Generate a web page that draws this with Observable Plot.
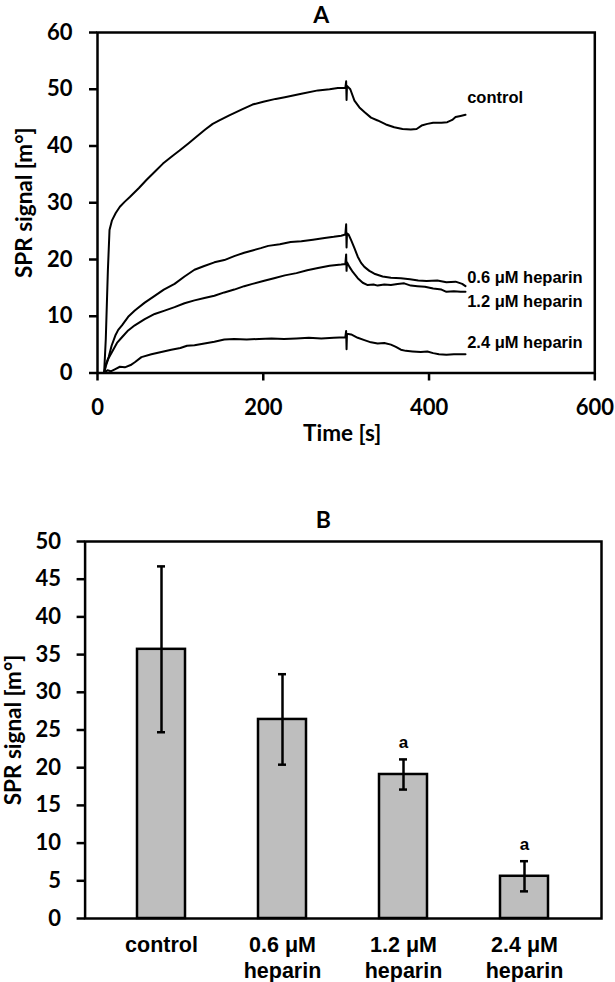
<!DOCTYPE html>
<html>
<head>
<meta charset="utf-8">
<script src="https://cdn.jsdelivr.net/npm/d3@7"></script>
<script src="https://cdn.jsdelivr.net/npm/@observablehq/plot@0.6"></script>
<style>
  html, body { margin: 0; padding: 0; background: #fff; }
  #chart { width: 615px; height: 982px; background: #fff; overflow: hidden; }
  #chart svg { display: block; }
</style>
</head>
<body>
<div id="chart"></div>
<script>
// ---------- Panel A data (time [s], SPR signal [m°]) ----------
const controlT = [8,10,12.5,14.5,17.5,22,27,33,39,50,59,70,79,90,99,110,119,130,139,147,159,175,187,200,215,226,246,266,280,290,299,300,300.5,301,305,310,316,322,330,338,348,358,368,378,385,391,398,405,415,422,428,432,438,444];
const controlV = [0,6,18,25.2,26.9,28.2,29.3,30.2,31.0,32.6,34.0,35.6,36.9,38.2,39.2,40.5,41.6,42.9,43.9,44.5,45.4,46.5,47.3,47.8,48.3,48.6,49.2,49.8,50.0,50.2,50.2,51.4,48.1,50.6,50.0,48.0,46.8,46.0,45.0,44.5,43.8,43.3,43.0,42.9,43.0,43.6,43.9,44.1,44.1,44.2,44.6,45.1,45.3,45.5];

const hep06T = [8,10,13.5,17,21.5,25,29.5,37,45,57,69,80,93,105,117,128,141,153,165,177,187,197,206,220,233,246,260,274,285,294,299,300,300.5,301,303,306,310,314,318,322,328,334,344,354,366,377,387,397,410,421,432,440,444];
const hep06V = [0,1.5,2.8,4.8,6.6,7.6,8.4,9.9,11.0,12.4,13.6,14.7,15.7,17.0,18.2,18.8,19.5,19.9,20.6,21.2,21.6,22.0,22.4,22.7,23.1,23.2,23.5,23.8,24.0,24.2,24.4,26.2,22.1,24.6,24.4,23.4,22.0,20.5,19.4,18.7,18.0,17.5,17.0,16.8,16.7,16.5,16.3,16.2,16.3,16.0,16.1,15.7,15.3];

const hep12T = [8,10,13,17.5,23.5,29.5,37,45,57,69,81,93,105,117,129,141,153,165,177,187,200,213,226,240,253,266,280,294,299,300,300.5,301,304,308,314,320,326,333,338,346,354,362,370,378,386,395,405,415,421,430,438,444];
const hep12V = [0,1.2,2.5,3.7,5.3,6.3,7.5,8.4,9.5,10.4,11.0,11.6,12.3,12.8,13.2,13.6,14.2,14.7,15.3,15.7,16.2,16.7,17.2,17.6,18.1,18.5,18.9,19.1,19.2,20.9,18.0,19.5,18.7,17.8,16.7,15.9,15.5,15.6,15.4,15.6,15.5,15.7,15.8,15.4,15.3,15.2,14.9,14.7,14.3,14.4,14.3,14.3];

const hep24T = [8,12,16,21.5,27,33,40,45,53,65,77,89,100,108,117,129,141,153,165,180,195,210,225,240,255,270,285,299,300,300.5,301,306,314,322,330,338,346,354,360,366,372,380,390,398,405,412,421,430,438,444];
const hep24V = [0,0.5,0.3,0.7,1.1,1.0,1.4,1.9,2.8,3.3,3.7,4.1,4.4,4.8,4.9,5.2,5.5,5.9,6.0,5.9,6.0,6.1,6.0,6.1,6.2,6.1,6.2,6.3,7.4,4.2,6.9,6.8,6.2,5.8,5.4,5.2,5.3,5.0,4.6,4.1,3.9,3.8,3.7,3.8,3.5,3.3,3.2,3.3,3.3,3.3];

const seriesNames = ["control", "0.6 μM heparin", "1.2 μM heparin", "2.4 μM heparin"];
const labelT = [446, 446, 446, 446];
const labelV = [48.5, 16.8, 12.6, 5.3];

const xTicksA = [0, 200, 400, 600];
const yTicksA = [0, 10, 20, 30, 40, 50, 60];

// ---------- Panel B data ----------
const categories = ["control", "0.6 μM heparin", "1.2 μM heparin", "2.4 μM heparin"];
const means = [35.7, 26.4, 19.1, 5.6];
const errors = [11.0, 6.0, 2.0, 2.0];
const sigMarks = ["", "", "a", "a"];
const yTicksB = [0, 5, 10, 15, 20, 25, 30, 35, 40, 45, 50];

// ---------- build rows ----------
const seriesT = [controlT, hep06T, hep12T, hep24T];
const seriesV = [controlV, hep06V, hep12V, hep24V];
const curveRows = [];
seriesNames.forEach((name, i) => {
  seriesT[i].forEach((t, j) => curveRows.push({series: name, t, v: seriesV[i][j]}));
});
const labelRows = seriesNames.map((name, i) => ({name, t: labelT[i], v: labelV[i]}));

const barRows = categories.map((c, i) => ({
  cat: c, mean: means[i], lo: means[i] - errors[i], hi: means[i] + errors[i], sig: sigMarks[i]
}));

const numFont = "Lato, 'Open Sans', sans-serif";
const txtFont = "'Liberation Sans', Arial, sans-serif";

// ---------- Panel A ----------
const plotA = Plot.plot({
  width: 615,
  height: 460,
  marginTop: 32,
  marginBottom: 87.5,
  marginLeft: 97,
  marginRight: 20.7,
  style: {background: "#fff", color: "#000", fontFamily: numFont, fontWeight: 700, fontSize: "22px", overflow: "visible"},
  x: {domain: [0, 600]},
  y: {domain: [0, 60]},
  marks: [
    Plot.axisX({ticks: xTicksA, tickSize: 8, tickPadding: 18, strokeWidth: 2.5, label: null,
      fontFamily: numFont, fontWeight: 700, fontSize: 22}),
    Plot.axisY({ticks: yTicksA, tickSize: 8, tickPadding: 17, strokeWidth: 2.5, label: null,
      fontFamily: numFont, fontWeight: 700, fontSize: 22}),
    Plot.line(curveRows, {x: "t", y: "v", z: "series", stroke: "#000", strokeWidth: 2, curve: "linear"}),
    Plot.frame({stroke: "#000", strokeWidth: 2.5}),
    Plot.text(labelRows, {x: "t", y: "v", text: "name", textAnchor: "start", lineAnchor: "middle",
      fontFamily: txtFont, fontWeight: 700, fontSize: 16.5, fill: "#000"}),
    Plot.text(["SPR signal [m°]"], {frameAnchor: "left", rotate: -90, dx: -73, textAnchor: "middle", lineAnchor: "middle",
      fontFamily: numFont, fontWeight: 700, fontSize: 22.5, fill: "#000"}),
    Plot.text(["Time [s]"], {frameAnchor: "bottom", dx: -4, dy: 61, textAnchor: "middle", lineAnchor: "middle",
      fontFamily: numFont, fontWeight: 700, fontSize: 22.5, fill: "#000"}),
    Plot.text(["A"], {frameAnchor: "top", dx: -25, dy: -17, textAnchor: "middle", lineAnchor: "middle",
      fontFamily: numFont, fontWeight: 700, fontSize: 23, fill: "#000"})
  ]
});

// ---------- Panel B ----------
const plotB = Plot.plot({
  width: 615,
  height: 522,
  marginTop: 81,
  marginBottom: 64,
  marginLeft: 84.6,
  marginRight: 14,
  style: {background: "#fff", color: "#000", fontFamily: numFont, fontWeight: 700, fontSize: "22px", overflow: "visible"},
  x: {domain: categories, range: [100.25, 585.5], paddingInner: 0.6, paddingOuter: 0.3},
  y: {domain: [0, 50]},
  marks: [
    Plot.barY(barRows, {x: "cat", y: "mean", fill: "#bebebe", stroke: "#000", strokeWidth: 2.5}),
    Plot.ruleX(barRows, {x: "cat", y1: "lo", y2: "hi", stroke: "#000", strokeWidth: 2.5}),
    Plot.tickY(barRows, {x: "cat", y: "hi", stroke: "#000", strokeWidth: 2.5, insetLeft: 20, insetRight: 20}),
    Plot.tickY(barRows, {x: "cat", y: "lo", stroke: "#000", strokeWidth: 2.5, insetLeft: 20, insetRight: 20}),
    Plot.text(barRows, {x: "cat", y: "hi", text: "sig", dy: -17, textAnchor: "middle", lineAnchor: "middle",
      fontFamily: txtFont, fontWeight: 700, fontSize: 17, fill: "#000"}),
    Plot.axisY({ticks: yTicksB, tickSize: 8, tickPadding: 16, strokeWidth: 2.5, label: null,
      fontFamily: numFont, fontWeight: 700, fontSize: 22}),
    Plot.axisX({tickSize: 0, tickPadding: 15, label: null, lineHeight: 1.22,
      tickFormat: d => d.replace(" heparin", "\nheparin"),
      fontFamily: txtFont, fontWeight: 700, fontSize: 21.5}),
    Plot.frame({stroke: "#000", strokeWidth: 2.5}),
    Plot.text(["SPR signal [m°]"], {frameAnchor: "left", rotate: -90, dx: -71.6, textAnchor: "middle", lineAnchor: "middle",
      fontFamily: numFont, fontWeight: 700, fontSize: 22.5, fill: "#000"}),
    Plot.text(["B"], {frameAnchor: "top", dx: -20, dy: -21, textAnchor: "middle", lineAnchor: "middle",
      fontFamily: numFont, fontWeight: 700, fontSize: 23, fill: "#000"})
  ]
});

const chart = document.getElementById("chart");
chart.appendChild(plotA);
chart.appendChild(plotB);
</script>
</body>
</html>
